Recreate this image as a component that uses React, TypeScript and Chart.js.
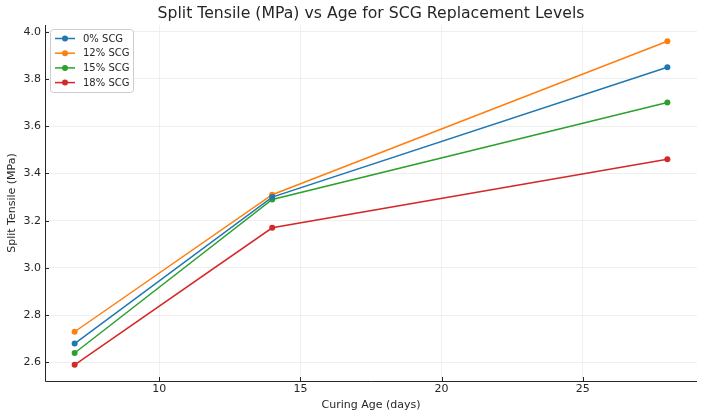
import React, { useEffect, useRef } from "react";
import { Chart, registerables } from "chart.js";

Chart.register(...registerables);

const ages = [7, 14, 28];
const seriesLabels = ["0% SCG", "12% SCG", "15% SCG", "18% SCG"];
const scg0 = [2.68, 3.30, 3.85];
const scg12 = [2.73, 3.31, 3.96];
const scg15 = [2.64, 3.29, 3.70];
const scg18 = [2.59, 3.17, 3.46];
const colors = ["#1f77b4", "#ff7f0e", "#2ca02c", "#d62728"];
const xTicks = [10, 15, 20, 25];
const yTicks = [2.6, 2.8, 3.0, 3.2, 3.4, 3.6, 3.8, 4.0];
const title = "Split Tensile (MPa) vs Age for SCG Replacement Levels";
const FONT = "'DejaVu Sans', sans-serif";

const overlay = {
  id: "overlay",
  afterDraw(chart: any) {
    const ctx = chart.ctx;
    const ca = chart.chartArea;
    const xs = chart.scales.x;
    const ys = chart.scales.y;
    ctx.save();
    // title
    ctx.fillStyle = "#262626";
    ctx.font = `15.7px ${FONT}`;
    ctx.textAlign = "center";
    ctx.textBaseline = "middle";
    ctx.fillText(title, (ca.left + ca.right) / 2, 14);
    // spines
    ctx.strokeStyle = "#262626";
    ctx.lineWidth = 1;
    ctx.beginPath();
    ctx.moveTo(ca.left + 0.5, ca.top);
    ctx.lineTo(ca.left + 0.5, ca.bottom + 0.5);
    ctx.lineTo(ca.right, ca.bottom + 0.5);
    ctx.stroke();
    // inward ticks
    ctx.beginPath();
    xTicks.forEach((t) => {
      const px = Math.round(xs.getPixelForValue(t)) + 0.5;
      ctx.moveTo(px, ca.bottom);
      ctx.lineTo(px, ca.bottom - 4);
    });
    yTicks.forEach((t) => {
      const py = Math.round(ys.getPixelForValue(t)) + 0.5;
      ctx.moveTo(ca.left, py);
      ctx.lineTo(ca.left + 4, py);
    });
    ctx.stroke();
    // legend
    const lx = ca.left + 5;
    const ly = ca.top + 4;
    const lw = 83;
    const lh = 63;
    ctx.fillStyle = "rgba(255,255,255,0.85)";
    ctx.strokeStyle = "#cccccc";
    ctx.lineWidth = 1;
    ctx.beginPath();
    (ctx as any).roundRect(lx + 0.5, ly + 0.5, lw, lh, 3);
    ctx.fill();
    ctx.stroke();
    ctx.font = `10px ${FONT}`;
    ctx.textAlign = "left";
    ctx.textBaseline = "middle";
    seriesLabels.forEach((lab, i) => {
      const yy = ly + 9.5 + i * 14.7;
      ctx.strokeStyle = colors[i];
      ctx.lineWidth = 1.5;
      ctx.beginPath();
      ctx.moveTo(lx + 5, yy);
      ctx.lineTo(lx + 25, yy);
      ctx.stroke();
      ctx.fillStyle = colors[i];
      ctx.beginPath();
      ctx.arc(lx + 15, yy, 3, 0, Math.PI * 2);
      ctx.fill();
      ctx.fillStyle = "#262626";
      ctx.fillText(lab, lx + 33, yy + 0.5);
    });
    ctx.restore();
  },
};

export default function App() {
  const ref = useRef<HTMLCanvasElement>(null);
  useEffect(() => {
    const series = [scg0, scg12, scg15, scg18];
    const chart = new Chart(ref.current!, {
      type: "line",
      data: {
        datasets: series.map((vals, i) => ({
          label: seriesLabels[i],
          data: ages.map((a, j) => ({ x: a, y: vals[j] })),
          borderColor: colors[i],
          backgroundColor: colors[i],
          borderWidth: 1.5,
          pointRadius: 3,
          pointBorderWidth: 0,
          tension: 0,
        })),
      },
      options: {
        animation: false,
        responsive: false,
        devicePixelRatio: 1,
        layout: { padding: { left: 0, right: 7, top: 25, bottom: 0 } },
        plugins: { legend: { display: false }, title: { display: false }, tooltip: { enabled: false } },
        scales: {
          x: {
            type: "linear",
            min: 5.95,
            max: 29.05,
            afterBuildTicks: (s: any) => { s.ticks = xTicks.map((v) => ({ value: v })); },
            grid: { color: "#ebebeb", lineWidth: 0.8, drawTicks: false },
            border: { display: false },
            ticks: { color: "#262626", font: { family: FONT, size: 11 }, padding: 2 },
            title: { display: true, text: "Curing Age (days)", color: "#262626", font: { family: FONT, size: 11 }, padding: { top: 2, bottom: 7 } },
            afterFit: (s: any) => { s.height = 38; },
          },
          y: {
            type: "linear",
            min: 2.5215,
            max: 4.0285,
            afterBuildTicks: (s: any) => { s.ticks = yTicks.map((v) => ({ value: v })); },
            grid: { color: "#ebebeb", lineWidth: 0.8, drawTicks: false },
            border: { display: false },
            ticks: { color: "#262626", font: { family: FONT, size: 11 }, padding: 4, callback: (v: any) => Number(v).toFixed(1) },
            title: { display: true, text: "Split Tensile (MPa)", color: "#262626", font: { family: FONT, size: 11 }, padding: { top: 6, bottom: 0 } },
            afterFit: (s: any) => { s.width = 45; },
          },
        },
      },
      plugins: [overlay],
    });
    return () => chart.destroy();
  }, []);
  return (
    <div style={{ position: "fixed", left: 0, top: 0, width: 704, height: 419, background: "#fff" }}>
      <canvas ref={ref} width={704} height={419} style={{ width: 704, height: 419 }} />
    </div>
  );
}
